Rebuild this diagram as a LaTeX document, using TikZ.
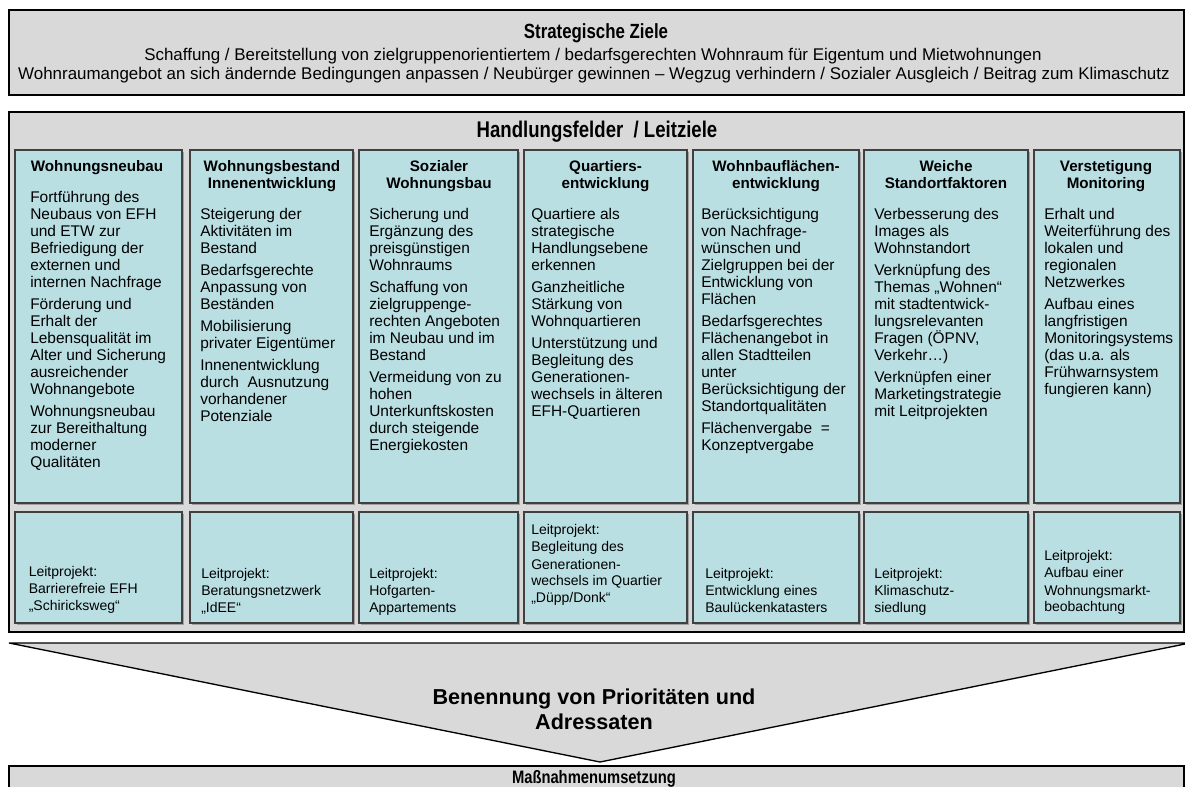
\documentclass[tikz,border=0pt]{standalone}
\usepackage{fontspec}
\setmainfont{Liberation Sans}
\newfontfamily\narrowfont[FakeStretch=0.82]{Liberation Sans}
\usetikzlibrary{shadows,fit}
\definecolor{boxgrey}{HTML}{D9D9D9}
\definecolor{cellteal}{HTML}{B9DFE3}
\definecolor{cellline}{HTML}{404040}
\newcommand\colhead[1]{\parbox[t]{130pt}{\centering #1}}
\newcommand\colbody[1]{\parbox[t]{150pt}{\raggedright #1}}
\begin{document}
\begin{tikzpicture}[x=0.75pt,y=-0.75pt,
  frame/.style={draw=black, line width=1.2pt, fill=boxgrey, inner sep=0pt},
  cell/.style={draw=cellline, line width=0.8pt, fill=cellteal, inner sep=0pt,
    drop shadow={shadow xshift=1.5pt, shadow yshift=-1.5pt, fill=black!55, opacity=0.55}},
  tri/.style={draw=black, line width=1pt, fill=boxgrey, line join=miter},
  ztitle/.style={anchor=base, inner sep=0pt, font=\narrowfont\bfseries\fontsize{15.4pt}{18pt}\selectfont},
  htitle/.style={anchor=base, inner sep=0pt, font=\narrowfont\bfseries\fontsize{17pt}{20pt}\selectfont},
  mtitle/.style={anchor=base, inner sep=0pt, font=\narrowfont\bfseries\fontsize{13.5pt}{15pt}\selectfont},
  ztext/.style={anchor=base, inner sep=0pt, font=\fontsize{12.7pt}{14.25pt}\selectfont},
  head/.style={anchor=base, inner sep=0pt, font=\fontsize{11.4pt}{12.75pt}\selectfont\bfseries},
  body/.style={anchor=base west, inner sep=0pt, font=\fontsize{11.6pt}{12.75pt}\selectfont},
  lower/.style={anchor=base west, inner sep=0pt, font=\fontsize{10.5pt}{12.75pt}\selectfont},
  bentext/.style={anchor=base, inner sep=0pt, font=\fontsize{16.2pt}{18.75pt}\selectfont\bfseries}
]
\useasboundingbox (0,0) rectangle (1185,787);
\clip (0,0) rectangle (1185,787);

% Strategische Ziele
\node[frame, fit={(9,10) (1184,95)}] (ziele) {};
\node[ztitle] (zielet) at (596,38.4) {Strategische Ziele};
\node[ztext] (ziel1) at (593,61) {Schaffung / Bereitstellung von zielgruppenorientiertem / bedarfsgerechten Wohnraum für Eigentum und Mietwohnungen};
\node[ztext] (ziel2) at (594,80) {Wohnraumangebot an sich ändernde Bedingungen anpassen / Neubürger gewinnen – Wegzug verhindern / Sozialer Ausgleich / Beitrag zum Klimaschutz};

% Handlungsfelder
\node[frame, fit={(9,112) (1184,632)}] (hf) {};
\node[htitle] (hft) at (597,138) {Handlungsfelder\ \ / Leitziele};

% upper cells
\node[cell, fit={(15,150) (182,503)}] (u1) {};
\node[cell, fit={(190,150) (353,503)}] (u2) {};
\node[cell, fit={(359,150) (518,503)}] (u3) {};
\node[cell, fit={(524,150) (687,503)}] (u4) {};
\node[cell, fit={(693,150) (859,503)}] (u5) {};
\node[cell, fit={(864,150) (1028,503)}] (u6) {};
\node[cell, fit={(1034,150) (1180,503)}] (u7) {};

% lower cells
\node[cell, fit={(15,512) (182,623)}] (l1) {};
\node[cell, fit={(190,512) (353,623)}] (l2) {};
\node[cell, fit={(359,512) (518,623)}] (l3) {};
\node[cell, fit={(524,512) (687,623)}] (l4) {};
\node[cell, fit={(693,512) (859,623)}] (l5) {};
\node[cell, fit={(864,512) (1028,623)}] (l6) {};
\node[cell, fit={(1034,512) (1180,623)}] (l7) {};

% headings
\node[head] (h1) at (97,171.4) {\colhead{Wohnungsneubau}};
\node[head] (h2) at (272,171.4) {\colhead{Wohnungsbestand\\Innenentwicklung}};
\node[head] (h3) at (439,171.4) {\colhead{Sozialer\\Wohnungsbau}};
\node[head] (h4) at (605.5,171.4) {\colhead{Quartiers-\\entwicklung}};
\node[head] (h5) at (776,171.4) {\colhead{Wohnbauflächen-\\entwicklung}};
\node[head] (h6) at (946,171.4) {\colhead{Weiche\\Standortfaktoren}};
\node[head] (h7) at (1106,171.4) {\colhead{Verstetigung\\Monitoring}};

% bodies
\node[body] (b1) at (30,202.4) {\colbody{Fortführung des\\Neubaus von EFH\\und ETW zur\\Befriedigung der\\externen und\\internen Nachfrage\\[3.75pt]
Förderung und\\Erhalt der\\Lebensqualität im\\Alter und Sicherung\\ausreichender\\Wohnangebote\\[3.75pt]
Wohnungsneubau\\zur Bereithaltung\\moderner\\Qualitäten}};
\node[body] (b2) at (200,219.4) {\colbody{Steigerung der\\Aktivitäten im\\Bestand\\[3.75pt]
Bedarfsgerechte\\Anpassung von\\Beständen\\[3.75pt]
Mobilisierung\\privater Eigentümer\\[3.75pt]
Innenentwicklung\\durch\ \ Ausnutzung\\vorhandener\\Potenziale}};
\node[body] (b3) at (369,219.4) {\colbody{Sicherung und\\Ergänzung des\\preisgünstigen\\Wohnraums\\[3.75pt]
Schaffung von\\zielgruppenge-\\rechten Angeboten\\im Neubau und im\\Bestand\\[3.75pt]
Vermeidung von zu\\hohen\\Unterkunftskosten\\durch steigende\\Energiekosten}};
\node[body] (b4) at (531,219.4) {\colbody{Quartiere als\\strategische\\Handlungsebene\\erkennen\\[3.75pt]
Ganzheitliche\\Stärkung von\\Wohnquartieren\\[3.75pt]
Unterstützung und\\Begleitung des\\Generationen-\\wechsels in älteren\\EFH-Quartieren}};
\node[body] (b5) at (701,219.4) {\colbody{Berücksichtigung\\von Nachfrage-\\wünschen und\\Zielgruppen bei der\\Entwicklung von\\Flächen\\[3.75pt]
Bedarfsgerechtes\\Flächenangebot in\\allen Stadtteilen\\unter\\Berücksichtigung der\\Standortqualitäten\\[3.75pt]
Flächenvergabe\ \ =\\Konzeptvergabe}};
\node[body] (b6) at (874,219.4) {\colbody{Verbesserung des\\Images als\\Wohnstandort\\[3.75pt]
Verknüpfung des\\Themas „Wohnen“\\mit stadtentwick-\\lungsrelevanten\\Fragen (ÖPNV,\\Verkehr…)\\[3.75pt]
Verknüpfen einer\\Marketingstrategie\\mit Leitprojekten}};
\node[body] (b7) at (1044,219.4) {\colbody{Erhalt und\\Weiterführung des\\lokalen und\\regionalen\\Netzwerkes\\[3.75pt]
Aufbau eines\\langfristigen\\Monitoringsystems\\(das u.a. als\\Frühwarnsystem\\fungieren kann)}};

% lower texts
\node[lower] (p1) at (28.5,576) {\colbody{Leitprojekt:\\Barrierefreie EFH\\„Schiricksweg“}};
\node[lower] (p2) at (201,578) {\colbody{Leitprojekt:\\Beratungsnetzwerk\\„IdEE“}};
\node[lower] (p3) at (369,578) {\colbody{Leitprojekt:\\Hofgarten-\\Appartements}};
\node[lower] (p4) at (531,535) {\colbody{Leitprojekt:\\Begleitung des\\Generationen-\\wechsels im Quartier\\„Düpp/Donk“}};
\node[lower] (p5) at (705,578) {\colbody{Leitprojekt:\\Entwicklung eines\\Baulückenkatasters}};
\node[lower] (p6) at (874,578) {\colbody{Leitprojekt:\\Klimaschutz-\\siedlung}};
\node[lower] (p7) at (1044,561) {\colbody{Leitprojekt:\\Aufbau einer\\Wohnungsmarkt-\\beobachtung}};

% arrow shape
\draw[tri] (9,643) coordinate (tl) -- (1190,643) coordinate (tr) -- (600,762) coordinate (tip) -- cycle;
\node[bentext] (ben) at (594,704.8) {\parbox[t]{320pt}{\centering Benennung von Prioritäten und\\Adressaten}};

% Massnahmen
\node[frame, fit={(9,766) (1184,800)}] (mass) {};
\node[mtitle] (masst) at (594,783.3) {Maßnahmenumsetzung};
\end{tikzpicture}
\end{document}
